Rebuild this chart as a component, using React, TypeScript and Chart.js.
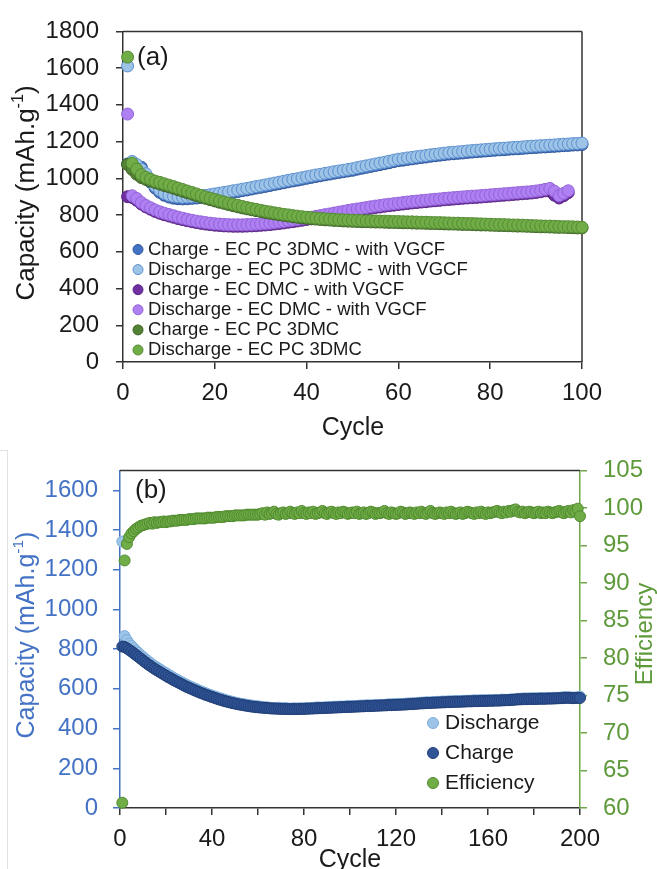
import React, { useEffect, useRef } from "react";
import { Chart, registerables } from "chart.js";
Chart.register(...registerables);

const FONT = "'Liberation Sans', Arial, Helvetica, sans-serif";

// ---------------- Chart (a) data ----------------
const labelsA = [
  "Charge - EC PC 3DMC - with VGCF",
  "Discharge - EC PC 3DMC - with VGCF",
  "Charge - EC DMC - with VGCF",
  "Discharge - EC DMC - with VGCF",
  "Charge - EC PC 3DMC",
  "Discharge - EC PC 3DMC",
];
const fillsA = ["#4472C4", "#9DC3E6", "#7030A0", "#AE80F2", "#548235", "#70AD47"];
const strokesA = ["#2F5597", "#5B8FCF", "#5A2585", "#9262D9", "#3F6427", "#568C36"];

const chargeVgcfA = [
  1078, 1086, 1068, 1060, 1016, 979, 947, 924, 908, 898, 892, 889, 888, 889, 891, 893, 896, 899, 903, 907,
  911, 915, 919, 924, 928, 933, 937, 942, 947, 951, 956, 961, 966, 971, 976, 981, 986, 990, 995, 1000,
  1005, 1010, 1014, 1019, 1023, 1028, 1032, 1036, 1040, 1044, 1050, 1055, 1060, 1065, 1070, 1075, 1080, 1085, 1091, 1096,
  1099, 1103, 1106, 1110, 1113, 1116, 1120, 1123, 1126, 1129, 1132, 1134, 1136, 1138, 1141, 1143, 1145, 1147, 1149, 1151,
  1153, 1155, 1156, 1158, 1160, 1161, 1163, 1165, 1167, 1168, 1170, 1171, 1173, 1174, 1176, 1178, 1179, 1181, 1182, 1184,
];
const dischargeVgcfA = [
  1612, 1092, 1075, 1050, 1025, 990, 958, 935, 918, 908, 902, 899, 897, 898, 899, 901, 904, 907, 911, 915,
  919, 923, 927, 932, 936, 941, 945, 950, 955, 959, 964, 969, 974, 979, 984, 989, 994, 998, 1003, 1008,
  1013, 1018, 1022, 1027, 1031, 1036, 1040, 1044, 1048, 1052, 1058, 1063, 1068, 1073, 1078, 1083, 1088, 1093, 1099, 1104,
  1107, 1111, 1114, 1118, 1121, 1124, 1128, 1131, 1134, 1137, 1140, 1142, 1144, 1146, 1149, 1151, 1153, 1155, 1157, 1159,
  1161, 1163, 1164, 1166, 1168, 1169, 1171, 1173, 1175, 1176, 1178, 1179, 1181, 1182, 1184, 1186, 1187, 1189, 1190, 1192,
];
const chargeDmcA = [
  900, 896, 880, 860, 844, 832, 820, 810, 802, 795, 788, 781, 775, 769, 764, 759, 755, 751, 748, 745,
  743, 741, 740, 739, 739, 739, 740, 741, 742, 744, 746, 748, 751, 754, 757, 761, 764, 768, 772, 776,
  780, 785, 789, 794, 798, 803, 808, 812, 817, 821, 825, 829, 833, 837, 841, 844, 848, 851, 854, 857,
  860, 863, 866, 868, 871, 873, 876, 878, 880, 883, 885, 887, 889, 891, 893, 895, 896, 898, 900, 902,
  904, 906, 908, 910, 912, 914, 916, 918, 920, 923, 927, 932, 930, 908, 893, 905, 922,
];
const dischargeDmcA = [
  1350, 905, 890, 868, 852, 840, 828, 818, 810, 803, 796, 789, 783, 777, 772, 767, 763, 759, 756, 753,
  751, 749, 748, 747, 747, 747, 748, 749, 750, 752, 754, 756, 759, 762, 765, 769, 772, 776, 780, 784,
  788, 793, 797, 802, 806, 811, 816, 820, 825, 829, 833, 837, 841, 845, 849, 852, 856, 859, 862, 865,
  868, 871, 874, 876, 879, 881, 884, 886, 888, 891, 893, 895, 897, 899, 901, 903, 904, 906, 908, 910,
  912, 914, 916, 918, 920, 922, 924, 926, 928, 931, 935, 940, 945, 930, 905, 918, 932,
];
const chargePlainA = [
  1075, 1048, 1022, 1004, 994, 985, 977, 969, 961, 954, 946, 938, 930, 922, 914, 906, 899, 891, 884, 877,
  870, 864, 857, 851, 845, 839, 834, 829, 824, 819, 814, 810, 806, 802, 798, 795, 791, 788, 785, 783,
  780, 778, 776, 774, 773, 771, 770, 768, 767, 766, 765, 764, 764, 763, 762, 762, 761, 760, 760, 759,
  758, 758, 757, 756, 756, 755, 754, 754, 753, 752, 751, 751, 750, 749, 749, 748, 747, 746, 746, 745,
  744, 743, 743, 742, 741, 740, 740, 739, 738, 737, 736, 736, 735, 734, 733, 733, 732, 731, 730, 730,
];
const dischargePlainA = [
  1660, 1082, 1050, 1020, 1005, 995, 985, 978, 970, 963, 955, 947, 939, 931, 923, 915, 907, 899, 892, 885,
  878, 871, 865, 859, 853, 847, 841, 836, 831, 826, 821, 817, 812, 808, 804, 801, 797, 794, 791, 788,
  786, 784, 782, 780, 778, 777, 775, 774, 773, 772, 771, 770, 769, 769, 768, 767, 767, 766, 765, 765,
  764, 763, 763, 762, 761, 761, 760, 759, 759, 758, 757, 756, 756, 755, 754, 754, 753, 752, 751, 750,
  749, 749, 748, 747, 746, 746, 745, 744, 743, 742, 741, 740, 740, 739, 738, 737, 737, 736, 735, 734,
];
const seriesA = [chargeVgcfA, dischargeVgcfA, chargeDmcA, dischargeDmcA, chargePlainA, dischargePlainA];
const xTicksA = { min: 0, max: 100, step: 20 };
const yTicksA = { min: 0, max: 1800, step: 200 };

// ---------------- Chart (b) data ----------------
const labelsB = ["Discharge", "Charge", "Efficiency"];
const fillsB = ["#9DC3E6", "#2F5597", "#70AD47"];
const strokesB = ["#7DAEDC", "#223F78", "#4F8A2E"];

const dischargeB = [
  1342, 866, 845, 828, 816, 804, 792, 781, 770, 760, 750, 741, 732, 723, 715, 708, 700, 693, 685, 679,
  671, 665, 657, 651, 645, 638, 632, 626, 620, 614, 609, 604, 599, 593, 588, 584, 579, 574, 570, 566,
  562, 558, 554, 551, 547, 543, 540, 537, 534, 531, 528, 526, 524, 522, 520, 518, 516, 515, 513, 512,
  510, 509, 507, 507, 505, 504, 504, 504, 505, 503, 502, 503, 501, 500, 501, 502, 500, 502, 501, 502,
  504, 502, 504, 503, 506, 506, 506, 505, 507, 508, 508, 507, 510, 510, 510, 511, 510, 511, 513, 513,
  513, 513, 513, 515, 516, 515, 517, 517, 516, 517, 519, 519, 520, 519, 519, 521, 522, 521, 523, 523,
  524, 523, 524, 525, 526, 526, 527, 528, 528, 530, 530, 531, 532, 532, 531, 534, 534, 535, 534, 536,
  536, 536, 537, 537, 538, 539, 539, 538, 540, 540, 540, 540, 541, 542, 541, 542, 542, 543, 543, 542,
  544, 543, 544, 543, 543, 546, 545, 545, 545, 547, 547, 547, 550, 550, 551, 552, 551, 552, 552, 553,
  552, 553, 554, 553, 554, 554, 554, 555, 555, 555, 555, 556, 558, 558, 557, 557, 555, 557, 556, 561,
];
const chargeB = [
  813, 811, 804, 796, 788, 779, 770, 761, 752, 743, 734, 725, 717, 709, 701, 694, 687, 680, 673, 666,
  659, 653, 646, 640, 634, 628, 622, 616, 610, 605, 600, 595, 590, 585, 580, 576, 571, 567, 563, 559,
  555, 551, 547, 544, 540, 537, 534, 531, 528, 526, 523, 521, 519, 517, 515, 513, 511, 510, 508, 507,
  506, 505, 504, 503, 502, 501, 501, 500, 500, 499, 499, 499, 498, 498, 498, 498, 498, 499, 499, 499,
  500, 500, 501, 501, 502, 502, 503, 503, 504, 504, 505, 505, 506, 506, 507, 507, 508, 508, 509, 509,
  510, 510, 511, 511, 512, 512, 513, 513, 514, 514, 515, 515, 516, 516, 517, 517, 518, 518, 519, 519,
  520, 520, 521, 521, 522, 523, 523, 524, 525, 526, 527, 527, 528, 529, 529, 530, 530, 531, 531, 532,
  532, 533, 533, 534, 534, 535, 535, 535, 536, 536, 537, 537, 537, 538, 538, 538, 539, 539, 539, 540,
  540, 540, 541, 541, 541, 542, 542, 543, 543, 544, 545, 546, 547, 547, 548, 548, 548, 549, 549, 549,
  549, 550, 550, 550, 550, 551, 551, 551, 552, 552, 553, 553, 554, 555, 555, 554, 553, 554, 555, 554,
];
const efficiencyB = [
  60.7, 93.0, 95.2, 96.1, 96.6, 96.9, 97.2, 97.4, 97.6, 97.7, 97.8, 97.9, 98.0, 97.9, 98.1, 98.0, 98.1, 98.1, 98.2, 98.1,
  98.2, 98.2, 98.3, 98.3, 98.3, 98.4, 98.4, 98.4, 98.4, 98.5, 98.5, 98.5, 98.6, 98.6, 98.6, 98.6, 98.6, 98.7, 98.7, 98.7,
  98.7, 98.8, 98.8, 98.8, 98.8, 98.9, 98.9, 98.9, 98.9, 99.0, 99.0, 99.0, 99.0, 99.0, 99.1, 99.1, 99.1, 99.1, 99.1, 99.1,
  99.2, 99.3, 99.1, 99.4, 99.2, 99.3, 99.5, 99.2, 99.1, 99.3, 99.4, 99.2, 99.3, 99.5, 99.3, 99.2, 99.4, 99.3, 99.6, 99.3,
  99.2, 99.4, 99.3, 99.5, 99.2, 99.3, 99.4, 99.6, 99.3, 99.2, 99.4, 99.5, 99.3, 99.2, 99.4, 99.3, 99.5, 99.4, 99.2, 99.3,
  99.4, 99.3, 99.5, 99.2, 99.3, 99.4, 99.2, 99.3, 99.5, 99.4, 99.2, 99.3, 99.3, 99.4, 99.6, 99.3, 99.2, 99.4, 99.3, 99.2,
  99.3, 99.5, 99.4, 99.2, 99.3, 99.4, 99.3, 99.2, 99.4, 99.3, 99.5, 99.3, 99.2, 99.4, 99.6, 99.3, 99.2, 99.3, 99.4, 99.3,
  99.2, 99.4, 99.3, 99.5, 99.3, 99.2, 99.3, 99.4, 99.2, 99.3, 99.5, 99.4, 99.3, 99.2, 99.4, 99.3, 99.5, 99.3, 99.2, 99.4,
  99.3, 99.4, 99.5, 99.6, 99.4, 99.3, 99.5, 99.4, 99.6, 99.5, 99.7, 99.8, 99.5, 99.4, 99.5, 99.3, 99.4, 99.5, 99.4, 99.3,
  99.4, 99.5, 99.3, 99.4, 99.3, 99.5, 99.4, 99.3, 99.4, 99.5, 99.6, 99.4, 99.3, 99.5, 99.6, 99.4, 99.7, 99.5, 99.9, 98.9,
];
const xTicksB = { min: 0, max: 200, step: 20, labelStep: 40 };
const yTicksB = { min: 0, max: 1700, step: 200, lastLabel: 1600 };
const y2TicksB = { min: 60, max: 105, step: 5 };

// ---------------- helpers ----------------
type Part = { t: string; sup?: boolean };

function drawRich(ctx: CanvasRenderingContext2D, parts: Part[], cx: number, cy: number, size: number, color: string, rot: number) {
  ctx.save();
  ctx.translate(cx, cy);
  ctx.rotate(rot);
  ctx.fillStyle = color;
  ctx.textBaseline = "alphabetic";
  ctx.textAlign = "left";
  const widths = parts.map((p) => {
    ctx.font = `${p.sup ? size * 0.62 : size}px ${FONT}`;
    return ctx.measureText(p.t).width;
  });
  const total = widths.reduce((a, b) => a + b, 0);
  let x = -total / 2;
  const base = size * 0.358;
  parts.forEach((p, i) => {
    ctx.font = `${p.sup ? size * 0.62 : size}px ${FONT}`;
    ctx.fillText(p.t, x, p.sup ? base - size * 0.42 : base);
    x += widths[i];
  });
  ctx.restore();
}

function drawLegend(ctx: CanvasRenderingContext2D, labels: string[], fills: string[], strokes: string[], mx: number, y0: number, dy: number, r: number, tx: number, size: number) {
  ctx.save();
  labels.forEach((lab, i) => {
    const y = y0 + i * dy;
    ctx.beginPath();
    ctx.arc(mx, y, r, 0, Math.PI * 2);
    ctx.fillStyle = fills[i];
    ctx.fill();
    ctx.lineWidth = 1;
    ctx.strokeStyle = strokes[i];
    ctx.stroke();
    ctx.fillStyle = "#1a1a1a";
    ctx.font = `${size}px ${FONT}`;
    ctx.textBaseline = "middle";
    ctx.textAlign = "left";
    ctx.fillText(lab, tx, y);
  });
  ctx.restore();
}

function toPoints(vals: number[]) {
  return vals.map((v, i) => ({ x: i + 1, y: v }));
}

function tickList(min: number, last: number, step: number) {
  const out: { value: number }[] = [];
  for (let v = min; v <= last + 1e-9; v += step) out.push({ value: v });
  return out;
}

const plainLabel = (v: any) => String(v);

function axis(color: string, extra: any) {
  return {
    type: "linear",
    border: { display: true, color, width: 1.5 },
    grid: { display: true, drawOnChartArea: false, drawTicks: true, tickLength: 7, color, lineWidth: 1.5 },
    title: { display: false },
    ...extra,
  };
}

function frame(color: string, right: boolean) {
  return {
    id: "frame",
    beforeDatasetsDraw(chart: any) {
      const { ctx, chartArea: a } = chart;
      ctx.save();
      ctx.strokeStyle = color;
      ctx.lineWidth = 1.5;
      ctx.beginPath();
      ctx.moveTo(a.left, a.top);
      ctx.lineTo(a.right, a.top);
      if (right) {
        ctx.moveTo(a.right, a.top);
        ctx.lineTo(a.right, a.bottom);
      }
      ctx.stroke();
      ctx.restore();
    },
  };
}

export default function App() {
  const refA = useRef<HTMLCanvasElement>(null);
  const refB = useRef<HTMLCanvasElement>(null);

  useEffect(() => {
    const datasetsA = seriesA.map((vals, i) => ({
      label: labelsA[i],
      data: toPoints(vals),
      showLine: false,
      pointRadius: 6,
      pointBorderWidth: 1,
      pointBackgroundColor: fillsA[i],
      pointBorderColor: strokesA[i],
      order: seriesA.length - i,
      clip: false as any,
    }));
    const decorA = {
      id: "decorA",
      afterDraw(chart: any) {
        const ctx = chart.ctx as CanvasRenderingContext2D;
        drawRich(ctx, [{ t: "Capacity (mAh.g" }, { t: "-1", sup: true }, { t: ")" }], 25, 193, 26, "#1a1a1a", -Math.PI / 2);
        drawRich(ctx, [{ t: "Cycle" }], 353, 426, 25, "#1a1a1a", 0);
        ctx.save();
        ctx.fillStyle = "#1a1a1a";
        ctx.font = `26px ${FONT}`;
        ctx.textBaseline = "middle";
        ctx.textAlign = "left";
        ctx.fillText("(a)", 137, 58);
        ctx.restore();
        drawLegend(ctx, labelsA, fillsA, strokesA, 138, 249.5, 20.1, 5, 148, 18.5);
      },
    };
    const tickFont = { family: FONT, size: 24 };
    const chartA = new Chart(refA.current!, {
      type: "scatter",
      data: { datasets: datasetsA as any },
      options: {
        responsive: false,
        animation: false,
        devicePixelRatio: 1,
        layout: { padding: { top: 26, right: 75, left: 0, bottom: 0 } },
        plugins: { legend: { display: false }, tooltip: { enabled: false } },
        scales: {
          x: axis("#333333", {
            min: xTicksA.min,
            max: xTicksA.max,
            ticks: { color: "#1a1a1a", font: tickFont, padding: 10, stepSize: xTicksA.step, autoSkip: false, maxRotation: 0, callback: plainLabel },
            afterFit: (s: any) => { s.height = 78; },
          }),
          y: axis("#333333", {
            min: yTicksA.min,
            max: yTicksA.max,
            ticks: { color: "#1a1a1a", font: tickFont, padding: 17, stepSize: yTicksA.step, autoSkip: false, callback: plainLabel },
            afterFit: (s: any) => { s.width = 123; },
          }),
        },
      } as any,
      plugins: [frame("#333333", true), decorA],
    });

    const seriesB = [dischargeB, chargeB, efficiencyB];
    const datasetsB = seriesB.map((vals, i) => ({
      label: labelsB[i],
      data: toPoints(vals),
      showLine: false,
      pointRadius: 5.5,
      pointBorderWidth: 1,
      pointBackgroundColor: fillsB[i],
      pointBorderColor: strokesB[i],
      yAxisID: i === 2 ? "y2" : "y",
      order: seriesB.length - i,
      clip: false as any,
    }));
    const blue = "#4472C4";
    const green = "#6FA64A";
    const greenText = "#5E9A3B";
    const decorB = {
      id: "decorB",
      afterDraw(chart: any) {
        const ctx = chart.ctx as CanvasRenderingContext2D;
        drawRich(ctx, [{ t: "Capacity (mAh.g" }, { t: "-1", sup: true }, { t: ")" }], 25, 195, 25, blue, -Math.PI / 2);
        drawRich(ctx, [{ t: "Efficiency" }], 643, 194, 24, greenText, -Math.PI / 2);
        drawRich(ctx, [{ t: "Cycle" }], 350, 418, 25, "#1a1a1a", 0);
        ctx.save();
        ctx.fillStyle = "#1a1a1a";
        ctx.font = `26px ${FONT}`;
        ctx.textBaseline = "middle";
        ctx.textAlign = "left";
        ctx.fillText("(b)", 135, 51);
        ctx.restore();
        drawLegend(ctx, labelsB, fillsB, strokesB, 433, 283, 30, 5.5, 445, 21);
      },
    };
    const chartB = new Chart(refB.current!, {
      type: "scatter",
      data: { datasets: datasetsB as any },
      options: {
        responsive: false,
        animation: false,
        devicePixelRatio: 1,
        layout: { padding: { top: 22, right: 0, left: 0, bottom: 0 } },
        plugins: { legend: { display: false }, tooltip: { enabled: false } },
        scales: {
          x: axis("#333333", {
            min: xTicksB.min,
            max: xTicksB.max,
            ticks: {
              color: "#1a1a1a",
              font: tickFont,
              padding: 10,
              stepSize: xTicksB.step,
              autoSkip: false,
              maxRotation: 0,
              callback: (v: any) => (Number(v) % xTicksB.labelStep === 0 ? String(v) : ""),
            },
            afterFit: (s: any) => { s.height = 72; },
          }),
          y: axis(blue, {
            position: "left",
            min: yTicksB.min,
            max: yTicksB.max,
            ticks: { color: blue, font: tickFont, padding: 15, autoSkip: false, callback: plainLabel },
            afterBuildTicks: (s: any) => { s.ticks = tickList(yTicksB.min, yTicksB.lastLabel, yTicksB.step); },
            afterFit: (s: any) => { s.width = 120; },
          }),
          y2: axis(green, {
            position: "right",
            min: y2TicksB.min,
            max: y2TicksB.max,
            ticks: { color: greenText, font: tickFont, padding: 16, stepSize: y2TicksB.step, autoSkip: false, callback: plainLabel },
            afterFit: (s: any) => { s.width = 77; },
          }),
        },
      } as any,
      plugins: [frame("#333333", false), decorB],
    });

    return () => {
      chartA.destroy();
      chartB.destroy();
    };
  }, []);

  return (
    <div style={{ position: "absolute", left: 0, top: 0, width: 657, height: 869, overflow: "hidden", background: "#ffffff" }}>
      <canvas ref={refA} width={657} height={440} style={{ position: "absolute", left: 0, top: 0, display: "block" }} />
      <div style={{ position: "absolute", left: 7, top: 450, width: 1, height: 419, background: "#e2e2e2" }} />
      <div style={{ position: "absolute", left: 0, top: 450, width: 8, height: 1, background: "#e2e2e2" }} />
      <canvas ref={refB} width={657} height={440} style={{ position: "absolute", left: 0, top: 440, display: "block" }} />
    </div>
  );
}
